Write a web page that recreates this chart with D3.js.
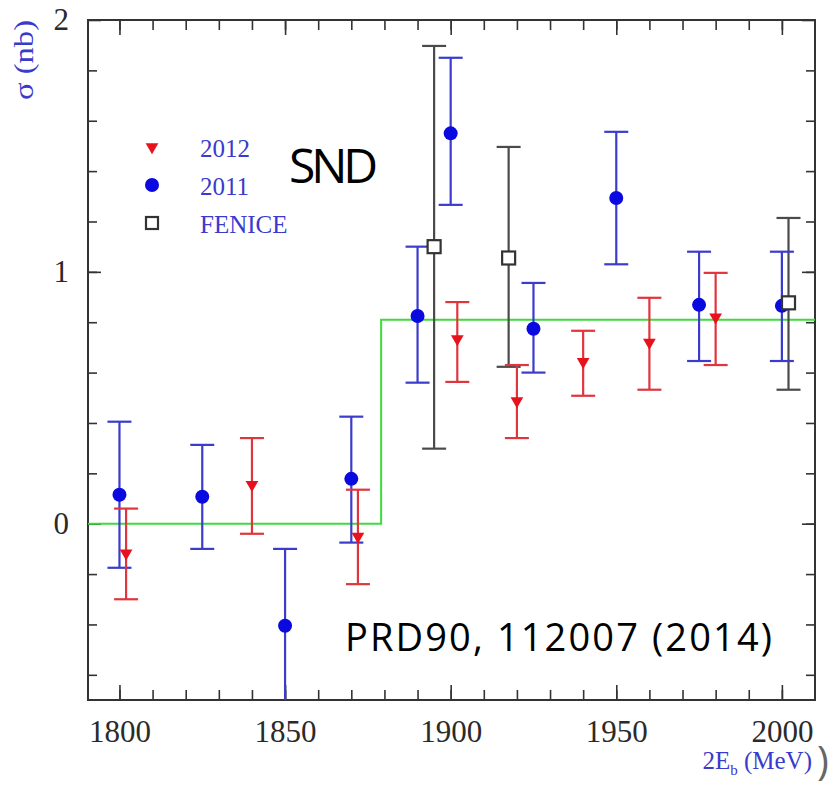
<!DOCTYPE html>
<html>
<head>
<meta charset="utf-8">
<script src="https://cdn.jsdelivr.net/npm/d3@7"></script>
<style>
  body { margin: 0; background: #fff; }
  svg { display: block; }
</style>
</head>
<body>
<div id="chart"></div>
<script>
// SND 2011 (blue circles)
var energy2011 = [1800, 1825, 1850, 1870, 1890, 1900, 1925, 1950, 1975, 2000];
var sigma2011  = [0.115, 0.107, -0.405, 0.178, 0.825, 1.55, 0.774, 1.293, 0.869, 0.865];
var upper2011  = [0.405, 0.313, -0.10, 0.425, 1.10, 1.85, 0.956, 1.556, 1.08, 1.08];
var lower2011  = [-0.175, -0.10, -0.71, -0.075, 0.56, 1.266, 0.60, 1.03, 0.646, 0.646];

// SND 2012 (red triangles)
var energy2012 = [1802, 1840, 1872, 1902, 1920, 1940, 1960, 1980];
var sigma2012  = [-0.117, 0.155, -0.05, 0.734, 0.488, 0.643, 0.72, 0.82];
var upper2012  = [0.06, 0.34, 0.135, 0.88, 0.63, 0.766, 0.897, 0.996];
var lower2012  = [-0.30, -0.04, -0.24, 0.563, 0.34, 0.508, 0.532, 0.63];

// FENICE (open squares)
var energyFenice = [1895, 1917.5, 2002];
var sigmaFenice  = [1.10, 1.055, 0.877];
var upperFenice  = [1.897, 1.496, 1.214];
var lowerFenice  = [0.298, 0.623, 0.532];

// step fit
var fitEnergy = [1790.5, 1879, 2010];
var fitSigma  = [0, 0.81, 0.81];

var xMajorTicks = [1800, 1850, 1900, 1950, 2000];
var yMajorTicks = [0, 1, 2];

var width = 834, height = 786;
var margin = {left: 88, top: 20, right: 19, bottom: 86};

var svg = d3.select("#chart").append("svg")
    .attr("width", width)
    .attr("height", height);

var x = d3.scaleLinear()
    .domain([1790.5, 2010])
    .range([margin.left, width - margin.right]);
var y = d3.scaleLinear()
    .domain([-0.7, 2])
    .range([height - margin.bottom, margin.top]);

var plotW = x.range()[1] - x.range()[0];
var plotH = y.range()[0] - y.range()[1];

svg.append("clipPath").attr("id", "clip")
  .append("rect")
    .attr("x", margin.left).attr("y", margin.top)
    .attr("width", plotW).attr("height", plotH);

var xMinor = d3.range(1800, 2010, 10);
var yMinor = d3.range(-0.6, 2.0, 0.2).map(function(v){ return +v.toFixed(1); });

function styleAxis(g) {
  g.select(".domain").remove();
  g.selectAll(".tick line").attr("stroke", "#333").attr("stroke-width", 1.6);
  g.selectAll(".tick text")
    .attr("fill", "#2a2a2a")
    .style("font-family", "'Liberation Serif', 'DejaVu Serif', serif")
    .style("font-size", "31px");
}

// bottom axis
svg.append("g")
    .attr("transform", "translate(0," + y.range()[0] + ")")
    .call(d3.axisBottom(x).tickValues(xMinor).tickSize(-10).tickFormat(""))
    .call(styleAxis);
svg.append("g")
    .attr("transform", "translate(0," + y.range()[0] + ")")
    .call(d3.axisBottom(x).tickValues(xMajorTicks).tickSize(-15).tickPadding(20).tickFormat(d3.format("d")))
    .call(styleAxis);
// top axis
svg.append("g")
    .attr("transform", "translate(0," + y.range()[1] + ")")
    .call(d3.axisTop(x).tickValues(xMinor).tickSize(-10).tickFormat(""))
    .call(styleAxis);
svg.append("g")
    .attr("transform", "translate(0," + y.range()[1] + ")")
    .call(d3.axisTop(x).tickValues(xMajorTicks).tickSize(-15).tickFormat(""))
    .call(styleAxis);
// left axis
svg.append("g")
    .attr("transform", "translate(" + x.range()[0] + ",0)")
    .call(d3.axisLeft(y).tickValues(yMinor).tickSize(-9).tickFormat(""))
    .call(styleAxis);
svg.append("g")
    .attr("transform", "translate(" + x.range()[0] + ",0)")
    .call(d3.axisLeft(y).tickValues(yMajorTicks).tickSize(-13).tickPadding(19).tickFormat(d3.format("d")))
    .call(styleAxis);
// right axis
svg.append("g")
    .attr("transform", "translate(" + x.range()[1] + ",0)")
    .call(d3.axisRight(y).tickValues(yMinor).tickSize(-9).tickFormat(""))
    .call(styleAxis);
svg.append("g")
    .attr("transform", "translate(" + x.range()[1] + ",0)")
    .call(d3.axisRight(y).tickValues(yMajorTicks).tickSize(-13).tickFormat(""))
    .call(styleAxis);

// frame
svg.append("rect")
    .attr("x", margin.left).attr("y", margin.top)
    .attr("width", plotW).attr("height", plotH)
    .attr("fill", "none")
    .attr("stroke", "#333")
    .attr("stroke-width", 2);

var plot = svg.append("g").attr("clip-path", "url(#clip)");

// step fit
var fitLine = d3.line()
    .x(function(d){ return x(d[0]); })
    .y(function(d){ return y(d[1]); })
    .curve(d3.curveStepAfter);
plot.append("path")
    .datum(d3.zip(fitEnergy, fitSigma))
    .attr("d", fitLine)
    .attr("fill", "none")
    .attr("stroke", "#3ddc3d")
    .attr("stroke-width", 2);

var capHalf = 12;

function errorBars(energy, lo, hi, color) {
  var g = plot.append("g").attr("stroke", color).attr("stroke-width", 2.2);
  var rows = d3.range(energy.length).map(function(i){
    return {e: energy[i], lo: lo[i], hi: hi[i]};
  });
  g.selectAll(".v").data(rows).enter().append("line")
      .attr("x1", function(d){ return x(d.e); })
      .attr("x2", function(d){ return x(d.e); })
      .attr("y1", function(d){ return y(d.lo); })
      .attr("y2", function(d){ return y(d.hi); });
  g.selectAll(".t").data(rows).enter().append("line")
      .attr("x1", function(d){ return x(d.e) - capHalf; })
      .attr("x2", function(d){ return x(d.e) + capHalf; })
      .attr("y1", function(d){ return y(d.hi); })
      .attr("y2", function(d){ return y(d.hi); });
  g.selectAll(".b").data(rows).enter().append("line")
      .attr("x1", function(d){ return x(d.e) - capHalf; })
      .attr("x2", function(d){ return x(d.e) + capHalf; })
      .attr("y1", function(d){ return y(d.lo); })
      .attr("y2", function(d){ return y(d.lo); });
}

errorBars(energyFenice, lowerFenice, upperFenice, "#4a4a4a");
errorBars(energy2011, lower2011, upper2011, "#3b3bcc");
errorBars(energy2012, lower2012, upper2012, "#e0353d");

var triangle = d3.symbol().type(d3.symbolTriangle).size(70);

// markers
plot.selectAll(".c2011").data(d3.zip(energy2011, sigma2011)).enter().append("circle")
    .attr("cx", function(d){ return x(d[0]); })
    .attr("cy", function(d){ return y(d[1]); })
    .attr("r", 7)
    .attr("fill", "#0a0ae0");

plot.selectAll(".t2012").data(d3.zip(energy2012, sigma2012)).enter().append("path")
    .attr("d", triangle)
    .attr("transform", function(d){ return "translate(" + x(d[0]) + "," + y(d[1]) + ") rotate(180)"; })
    .attr("fill", "#e8121c");

plot.selectAll(".sF").data(d3.zip(energyFenice, sigmaFenice)).enter().append("rect")
    .attr("x", function(d){ return x(d[0]) - 6.5; })
    .attr("y", function(d){ return y(d[1]) - 6.5; })
    .attr("width", 13).attr("height", 13)
    .attr("fill", "#fff")
    .attr("stroke", "#333")
    .attr("stroke-width", 2.2);

// legend
var legendLabels = ["2012", "2011", "FENICE"];
var legendY = [147, 185, 223];
var legend = svg.append("g");
legend.append("path")
    .attr("d", triangle)
    .attr("transform", "translate(152," + legendY[0] + ") rotate(180)")
    .attr("fill", "#e8121c");
legend.append("circle")
    .attr("cx", 152).attr("cy", legendY[1]).attr("r", 7)
    .attr("fill", "#0a0ae0");
legend.append("rect")
    .attr("x", 146).attr("y", legendY[2] - 6)
    .attr("width", 12).attr("height", 12)
    .attr("fill", "#fff").attr("stroke", "#333").attr("stroke-width", 2.2);
legend.selectAll("text").data(legendLabels).enter().append("text")
    .attr("x", 200)
    .attr("y", function(d, i){ return legendY[i] + 10; })
    .attr("fill", "#3a3acc")
    .style("font-family", "'Liberation Serif', serif")
    .style("font-size", "25px")
    .text(function(d){ return d; });

// axis titles
svg.append("text")
    .attr("transform", "translate(33,60) rotate(-90)")
    .attr("text-anchor", "middle")
    .attr("fill", "#3a3acc")
    .style("font-family", "'Liberation Serif', serif")
    .style("font-size", "27px")
    .attr("textLength", 80)
    .attr("lengthAdjust", "spacingAndGlyphs")
    .text("\u03c3 (nb)");

var xt = svg.append("text")
    .attr("x", 812).attr("y", 769)
    .attr("text-anchor", "end")
    .attr("fill", "#3a3acc")
    .style("font-family", "'Liberation Serif', serif")
    .style("font-size", "25px");
xt.append("tspan").text("2E");
xt.append("tspan").attr("dy", 6).style("font-size", "15px").text("b");
xt.append("tspan").attr("dy", -6).text(" (MeV)");

svg.append("text")
    .attr("x", 817).attr("y", 775)
    .attr("fill", "#666")
    .style("font-family", "'Open Sans', sans-serif")
    .style("font-size", "40px")
    .text(")");

// annotations
svg.append("text")
    .attr("x", 289).attr("y", 183)
    .attr("fill", "#000")
    .style("font-family", "'Open Sans', sans-serif")
    .style("font-size", "48px")
    .attr("textLength", 89)
    .text("SND");

svg.append("text")
    .attr("x", 345).attr("y", 651)
    .attr("fill", "#000")
    .style("font-family", "'Open Sans', sans-serif")
    .style("font-size", "38px")
    .attr("textLength", 427)
    .text("PRD90, 112007 (2014)");
</script>
</body>
</html>
